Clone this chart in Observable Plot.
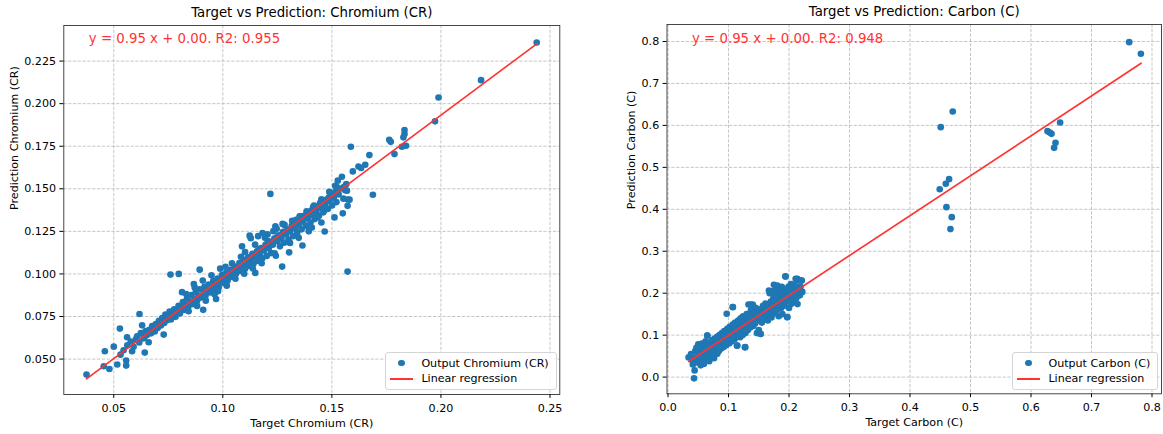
<!DOCTYPE html>
<html><head><meta charset="utf-8">
<script src="https://cdn.jsdelivr.net/npm/d3@7"></script>
<script src="https://cdn.jsdelivr.net/npm/@observablehq/plot@0.6"></script>
<style>
html,body{margin:0;padding:0;background:#fff;}
#wrap{position:relative;width:1163px;height:434px;overflow:hidden;font-family:"DejaVu Sans",sans-serif;}
.legend{position:absolute;box-sizing:border-box;border:1px solid #d5d5d5;border-radius:3px;background:rgba(255,255,255,0.85);padding:2px 7px 2px 4px;font-size:11.1px;color:#000;}
.row{display:flex;align-items:center;height:15.7px;white-space:nowrap;}
.sym{width:23.3px;height:15.7px;position:relative;margin-right:8.4px;flex:none;}
.sym .dot{position:absolute;left:8.3px;top:4.5px;width:6.7px;height:6.7px;border-radius:50%;background:#1f77b4;}
.sym .ln{position:absolute;left:0;top:7px;width:23.3px;height:1.67px;background:#f33;}
</style></head>
<body><div id="wrap"></div>
<script>
// ---------- Chromium (CR) ----------
const crTitle = "Target vs Prediction: Chromium (CR)";
const crXLabel = "Target Chromium (CR)";
const crYLabel = "Prediction Chromium (CR)";
const crNote = "y = 0.95 x + 0.00. R2: 0.955";
const crLegend = ["Output Chromium (CR)", "Linear regression"];
const crXTicks = [0.05, 0.10, 0.15, 0.20, 0.25];
const crYTicks = [0.050, 0.075, 0.100, 0.125, 0.150, 0.175, 0.200, 0.225];
const crLineX = [0.0375, 0.2441];
const crLineY = [0.0384, 0.2353];
const crPoints = [
 [0.0375,0.0409],[0.0454,0.0458],[0.0480,0.0442],[0.0459,0.0546],[0.0500,0.0573],[0.0528,0.0679],
 [0.0516,0.0468],[0.0557,0.0462],[0.0557,0.0491],[0.0531,0.0526],[0.0584,0.0546],[0.0642,0.0538],
 [0.0618,0.0765],[0.0630,0.0698],[0.0561,0.0628],[0.0660,0.0599],[0.0729,0.0644],[0.0545,0.0552],
 [0.0562,0.0581],[0.0578,0.0603],[0.0591,0.0572],[0.0601,0.0615],[0.0607,0.0634],[0.0617,0.0598],
 [0.0624,0.0652],[0.0637,0.0622],[0.0646,0.0664],[0.0652,0.0641],[0.0663,0.0672],[0.0671,0.0651],
 [0.0676,0.0694],[0.0688,0.0662],[0.0693,0.0705],[0.0701,0.0683],[0.0707,0.0724],[0.0716,0.0697],
 [0.0722,0.0741],[0.0731,0.0712],[0.0737,0.0762],[0.0742,0.0727],[0.0751,0.0748],[0.0756,0.0779],
 [0.0762,0.0733],[0.0771,0.0764],[0.0777,0.0792],[0.0783,0.0748],[0.0792,0.0778],[0.0797,0.0813],
 [0.0803,0.0768],[0.0811,0.0802],[0.0813,0.0893],[0.0817,0.0835],[0.0822,0.0788],[0.0831,0.0817],
 [0.0836,0.0856],[0.0842,0.0808],[0.0849,0.0838],[0.0856,0.0876],[0.0862,0.0823],[0.0867,0.0941],
 [0.0871,0.0853],[0.0876,0.0893],[0.0882,0.0842],[0.0889,0.0871],[0.0894,0.0910],[0.0894,0.1025],
 [0.0901,0.0862],[0.0910,0.0789],[0.0912,0.0887],[0.0916,0.0924],[0.0921,0.0873],[0.0929,0.0903],
 [0.0934,0.0938],[0.0942,0.0891],[0.0951,0.0922],[0.0956,0.0958],[0.0962,0.0908],[0.0969,0.0853],
 [0.0971,0.0937],[0.0976,0.0973],[0.0981,0.0921],[0.0991,0.0952],[0.0996,0.0994],[0.1001,0.0948],
 [0.1009,0.0977],[0.1016,0.1008],[0.1022,0.0962],[0.1031,0.0992],[0.1036,0.1024],[0.1041,0.0983],
 [0.1049,0.1012],[0.1056,0.1043],[0.1061,0.1003],[0.1069,0.1032],[0.1076,0.1064],[0.1081,0.1018],
 [0.1088,0.1162],[0.1091,0.1047],[0.1096,0.1083],[0.1102,0.1031],[0.1109,0.1062],[0.1116,0.1098],
 [0.1121,0.1047],[0.1123,0.1225],[0.1129,0.1082],[0.1136,0.1118],[0.1141,0.1061],[0.1149,0.1006],
 [0.1151,0.1097],[0.1156,0.1133],[0.1162,0.1077],[0.1169,0.1117],[0.1176,0.1152],[0.1181,0.1092],
 [0.1182,0.1240],[0.1189,0.1137],[0.1196,0.1171],[0.1201,0.1106],[0.1211,0.1152],[0.1214,0.1188],
 [0.1218,0.1470],[0.1221,0.1122],[0.1229,0.1172],[0.1236,0.1207],[0.1243,0.1107],[0.1241,0.1280],
 [0.1251,0.1192],[0.1256,0.1227],[0.1262,0.1162],[0.1272,0.1043],[0.1269,0.1212],[0.1274,0.1294],
 [0.1276,0.1247],[0.1281,0.1183],[0.1291,0.1232],[0.1296,0.1262],[0.1304,0.1127],[0.1301,0.1202],
 [0.1309,0.1252],[0.1316,0.1283],[0.1322,0.1222],[0.1331,0.1267],[0.1336,0.1318],[0.1341,0.1242],
 [0.1349,0.1287],[0.1356,0.1322],[0.1365,0.1167],[0.1361,0.1262],[0.1369,0.1307],[0.1376,0.1342],
 [0.1381,0.1282],[0.1389,0.1327],[0.1394,0.1250],[0.1396,0.1362],[0.1402,0.1302],[0.1409,0.1347],
 [0.1414,0.1392],[0.1421,0.1322],[0.1429,0.1367],[0.1434,0.1332],[0.1437,0.1397],[0.1441,0.1342],
 [0.1449,0.1387],[0.1456,0.1417],[0.1461,0.1362],[0.1467,0.1249],[0.1464,0.1372],[0.1469,0.1407],
 [0.1476,0.1437],[0.1481,0.1382],[0.1489,0.1427],[0.1494,0.1470],[0.1501,0.1402],[0.1509,0.1447],
 [0.1512,0.1332],[0.1515,0.1518],[0.1516,0.1482],[0.1521,0.1422],[0.1527,0.1548],[0.1531,0.1467],
 [0.1541,0.1502],[0.1546,0.1571],[0.1550,0.1356],[0.1553,0.1442],[0.1561,0.1492],[0.1566,0.1527],
 [0.1569,0.1489],[0.1572,0.1400],[0.1573,0.1437],[0.1572,0.1014],[0.1581,0.1436],[0.1587,0.1747],
 [0.1596,0.1602],[0.1622,0.1631],[0.1634,0.1622],[0.1653,0.1641],[0.1672,0.1698],[0.1688,0.1465],
 [0.1763,0.1788],[0.1770,0.1776],[0.1787,0.1704],[0.1821,0.1747],[0.1833,0.1845],[0.1833,0.1822],
 [0.1828,0.1802],[0.1840,0.1753],[0.1973,0.1896],[0.1989,0.2036],[0.2184,0.2138],[0.2439,0.2359],
 [0.0640,0.0628],[0.0683,0.0688],[0.0726,0.0728],[0.0768,0.0746],[0.0806,0.0787],[0.0846,0.0822],
 [0.0887,0.0858],[0.0926,0.0896],[0.0966,0.0944],[0.1006,0.0987],[0.1046,0.1019],[0.1086,0.1058],
 [0.1126,0.1101],[0.1166,0.1142],[0.1206,0.1178],[0.1246,0.1214],[0.1286,0.1248],[0.1326,0.1294],
 [0.1366,0.1338],[0.1406,0.1372],[0.1446,0.1416],[0.1486,0.1448],[0.1526,0.1492],[0.1556,0.1512],
 [0.1128,0.1210],[0.1162,0.1222],[0.1205,0.1232],[0.1247,0.1265],[0.1283,0.1288],[0.1318,0.1312],
 [0.1352,0.1338],[0.1384,0.1368],[0.1418,0.1402],[0.1452,0.1438],[0.1488,0.1482],[0.1522,0.1512],
 [0.0760,0.0996],[0.0798,0.1000],[0.1042,0.1062],[0.1083,0.1101],[0.1102,0.1128],[0.1148,0.1172],
 [0.1193,0.1212],[0.1232,0.1251],[0.1207,0.1193],[0.0978,0.0899],[0.1018,0.0931],[0.1058,0.0972],
 [0.1098,0.1001],[0.1138,0.1032],[0.1178,0.1063],[0.1238,0.1121],[0.1308,0.1182],[0.1348,0.1212],
 [0.1408,0.1272],[0.1452,0.1302],[0.0832,0.0882],[0.0871,0.0921],[0.0908,0.0961],[0.0948,0.0992],
 [0.0988,0.1031],[0.1012,0.1042],[0.0843,0.0781],[0.0882,0.0812],[0.0922,0.0843],[0.0962,0.0881]
];

// ---------- Carbon (C) ----------
const cTitle = "Target vs Prediction: Carbon (C)";
const cXLabel = "Target Carbon (C)";
const cYLabel = "Prediction Carbon (C)";
const cNote = "y = 0.95 x + 0.00. R2: 0.948";
const cLegend = ["Output Carbon (C)", "Linear regression"];
const cXTicks = [0.0, 0.1, 0.2, 0.3, 0.4, 0.5, 0.6, 0.7, 0.8];
const cYTicks = [0.0, 0.1, 0.2, 0.3, 0.4, 0.5, 0.6, 0.7, 0.8];
const cLineX = [0.0344, 0.7820];
const cLineY = [0.0372, 0.7483];
const cPoints = [
 [0.034,0.047],[0.038,0.055],[0.040,0.040],[0.041,0.030],[0.043,-0.003],[0.044,0.016],[0.045,0.062],
 [0.045,0.045],[0.047,0.070],[0.048,0.035],[0.049,0.052],[0.050,0.078],[0.051,0.060],[0.052,0.042],
 [0.053,0.068],[0.054,0.028],[0.055,0.055],[0.056,0.080],[0.057,0.047],[0.058,0.065],[0.059,0.032],
 [0.060,0.072],[0.061,0.058],[0.062,0.085],[0.063,0.044],[0.064,0.068],[0.065,0.099],[0.066,0.052],
 [0.067,0.077],[0.068,0.038],[0.069,0.062],[0.070,0.083],[0.071,0.070],[0.072,0.050],[0.073,0.088],
 [0.074,0.064],[0.075,0.076],[0.076,0.045],[0.077,0.092],[0.078,0.070],[0.079,0.082],[0.080,0.058],
 [0.081,0.096],[0.082,0.074],[0.083,0.088],[0.084,0.062],[0.085,0.100],[0.086,0.080],[0.087,0.092],
 [0.088,0.068],[0.089,0.105],[0.090,0.085],[0.091,0.096],[0.092,0.072],[0.093,0.110],[0.094,0.088],
 [0.095,0.100],[0.096,0.076],[0.097,0.151],[0.098,0.115],[0.099,0.093],[0.100,0.105],[0.101,0.080],
 [0.102,0.120],[0.103,0.098],[0.104,0.110],[0.105,0.085],[0.107,0.167],[0.107,0.125],[0.108,0.102],
 [0.109,0.115],[0.110,0.090],[0.111,0.130],[0.112,0.108],[0.113,0.120],[0.114,0.075],[0.115,0.097],
 [0.116,0.135],[0.117,0.112],[0.118,0.125],[0.119,0.095],[0.120,0.140],[0.121,0.118],[0.122,0.130],
 [0.123,0.100],[0.124,0.145],[0.125,0.122],[0.126,0.135],[0.127,0.071],[0.128,0.105],[0.129,0.128],
 [0.130,0.150],[0.131,0.140],[0.132,0.112],[0.133,0.173],[0.134,0.132],[0.135,0.145],[0.136,0.118],
 [0.137,0.160],[0.138,0.138],[0.139,0.150],[0.140,0.173],[0.141,0.122],[0.142,0.142],[0.143,0.155],
 [0.144,0.128],[0.145,0.165],[0.146,0.146],[0.147,0.105],[0.148,0.135],[0.149,0.158],[0.150,0.112],
 [0.151,0.150],[0.152,0.140],[0.153,0.103],[0.154,0.162],[0.155,0.130],[0.156,0.148],[0.157,0.170],
 [0.158,0.138],[0.160,0.155],[0.161,0.175],[0.162,0.145],[0.163,0.162],[0.165,0.135],[0.166,0.168],
 [0.167,0.150],[0.168,0.200],[0.169,0.158],[0.170,0.180],[0.171,0.142],[0.172,0.165],[0.173,0.205],
 [0.174,0.188],[0.175,0.220],[0.176,0.152],[0.177,0.172],[0.178,0.195],[0.179,0.212],[0.180,0.160],
 [0.181,0.182],[0.182,0.200],[0.183,0.145],[0.184,0.175],[0.185,0.205],[0.186,0.190],[0.187,0.165],
 [0.188,0.215],[0.189,0.150],[0.190,0.185],[0.191,0.198],[0.192,0.170],[0.194,0.240],[0.195,0.208],
 [0.196,0.180],[0.197,0.143],[0.198,0.195],[0.199,0.215],[0.200,0.165],[0.201,0.200],[0.202,0.185],
 [0.203,0.222],[0.204,0.175],[0.205,0.210],[0.206,0.195],[0.208,0.220],[0.209,0.180],[0.210,0.200],
 [0.211,0.234],[0.212,0.188],[0.213,0.215],[0.214,0.174],[0.215,0.205],[0.216,0.230],[0.218,0.195],
 [0.219,0.215],[0.220,0.203],[0.222,0.203],[0.221,0.230],[0.2204,0.2303],[0.2137,0.2343],
 [0.0648,0.0992],[0.1072,0.1667],[0.1277,0.0713],[0.1365,0.1730],[0.1530,0.1032],[0.1145,0.0753],
 [0.0814,0.0555],[0.0593,0.0317],[0.1668,0.2064],[0.1806,0.2184],[0.1972,0.1428],[0.1944,0.2398],
 [0.050,0.050],[0.060,0.060],[0.070,0.068],[0.080,0.078],[0.090,0.090],[0.100,0.098],[0.110,0.108],
 [0.120,0.118],[0.130,0.125],[0.140,0.135],[0.150,0.142],[0.160,0.150],[0.170,0.162],[0.180,0.172],
 [0.190,0.178],[0.200,0.190],[0.210,0.195],[0.063,0.075],[0.085,0.070],[0.097,0.085],[0.118,0.108],
 [0.136,0.128],[0.156,0.138],[0.176,0.182],[0.195,0.192],[0.145,0.148],[0.125,0.112],[0.105,0.098],
 [0.7623,0.7983],[0.7816,0.7707],[0.4706,0.6331],[0.4508,0.5957],[0.4646,0.4718],[0.4591,0.4608],
 [0.4491,0.4478],[0.4602,0.4050],[0.4690,0.3812],[0.4668,0.3528],[0.6481,0.6069],[0.6273,0.5862],
 [0.6339,0.5799],[0.6405,0.5585],[0.6382,0.5466],[0.6310,0.5830]
];

const FONT = '"DejaVu Sans", sans-serif';
const gridStyle = {stroke: "#b8b8b8", strokeOpacity: 1, strokeWidth: 0.8, strokeDasharray: "3.3,1.5"};

function panel(o) {
  const pts = o.points.map(([t, p]) => ({t, p}));
  const line = o.lineX.map((t, i) => ({t, p: o.lineY[i]}));
  const svg = Plot.plot({
    width: o.width, height: 434,
    marginLeft: o.ml, marginRight: o.mr, marginTop: o.mt, marginBottom: o.mb,
    style: {fontFamily: FONT, fontSize: "11.1px", color: "#000", background: "transparent", overflow: "visible"},
    x: {domain: o.xDomain, label: null},
    y: {domain: o.yDomain, label: null},
    marks: [
      Plot.gridX(o.xTicks, gridStyle),
      Plot.gridY(o.yTicks, gridStyle),
      Plot.dot(pts, {x: "t", y: "p", r: 3.33, fill: "#1f77b4"}),
      Plot.line(line, {x: "t", y: "p", stroke: "#f33", strokeWidth: 1.67}),
      Plot.frame({stroke: "#333", strokeWidth: 0.9}),
      Plot.axisX(o.xTicks, {tickSize: 3.9, tickPadding: 5.5, tickFormat: o.xFmt, label: null}),
      Plot.axisY(o.yTicks, {tickSize: 3.9, tickPadding: 3.9, tickFormat: o.yFmt, label: null}),
      Plot.text([o.note], {text: d => d, frameAnchor: "top-left", dx: 25, dy: o.noteDy, fill: "#f33", fontSize: 13.3, textAnchor: "start", lineAnchor: "middle"}),
      Plot.text([o.title], {text: d => d, frameAnchor: "top", dy: -12.5, fontSize: 13.3, lineAnchor: "middle", fill: "#000"}),
      Plot.text([o.xLabel], {text: d => d, frameAnchor: "bottom", dy: 28.7, lineAnchor: "middle", fill: "#000"}),
      Plot.text([o.yLabel], {text: d => d, frameAnchor: "left", dx: o.yLabelDx, rotate: -90, lineAnchor: "middle", fill: "#000"})
    ]
  });
  svg.style.position = "absolute";
  svg.style.left = o.left + "px";
  svg.style.top = "0px";
  return svg;
}

function legend(labels, right) {
  const d = document.createElement("div");
  d.className = "legend";
  d.style.right = right + "px";
  d.style.top = "352.3px";
  d.innerHTML =
    `<div class="row"><div class="sym"><div class="dot"></div></div><span></span></div>` +
    `<div class="row"><div class="sym"><div class="ln"></div></div><span></span></div>`;
  const spans = d.querySelectorAll("span");
  spans[0].textContent = labels[0];
  spans[1].textContent = labels[1];
  return d;
}

const wrap = document.getElementById("wrap");
wrap.appendChild(panel({
  left: 0, width: 581, ml: 63.3, mr: 21.7, mt: 25, mb: 40,
  xDomain: [0.02709, 0.2545], yDomain: [0.0292, 0.2459],
  xTicks: crXTicks, yTicks: crYTicks, xFmt: d3.format(".2f"), yFmt: d3.format(".3f"),
  points: crPoints, lineX: crLineX, lineY: crLineY,
  title: crTitle, xLabel: crXLabel, yLabel: crYLabel, note: crNote, noteDy: 13.3, yLabelDx: -49.3
}));
wrap.appendChild(panel({
  left: 581, width: 582, ml: 85.5, mr: 2, mt: 24, mb: 40.7,
  xDomain: [-0.0017, 0.8157], yDomain: [-0.0398, 0.8405],
  xTicks: cXTicks, yTicks: cYTicks, xFmt: d3.format(".1f"), yFmt: d3.format(".1f"),
  points: cPoints, lineX: cLineX, lineY: cLineY,
  title: cTitle, xLabel: cXLabel, yLabel: cYLabel, note: cNote, noteDy: 14.3, yLabelDx: -35.5
}));
wrap.appendChild(legend(crLegend, 606.3));
wrap.appendChild(legend(cLegend, 4.6));
</script>
</body></html>
